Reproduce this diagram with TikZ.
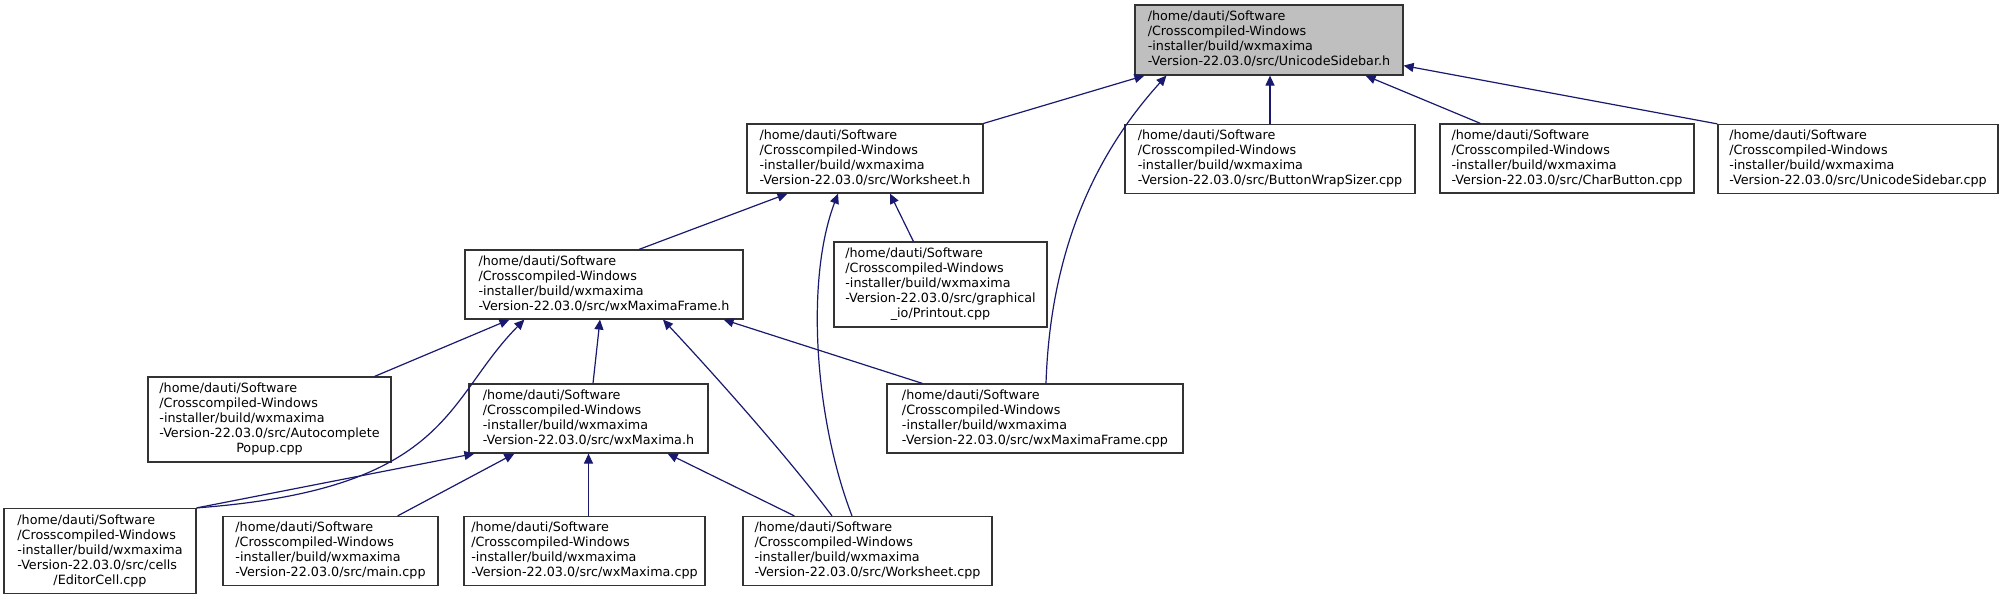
\documentclass[tikz,border=0pt]{standalone}
\usepackage{fontspec}
\setmainfont{DejaVu Sans}
\usetikzlibrary{arrows.meta}
\definecolor{edgeblue}{RGB}{25,25,112}

% four-line file label, last line ends in #1
\newcommand{\srcfile}[1]{\begin{tabular}{@{}l@{}}/home/dauti/Software\\/Crosscompiled-Windows\\-installer/build/wxmaxima\\-Version-22.03.0/src/#1\end{tabular}}
% five-line label, the wrapped rest #2 centred
\newcommand{\srcfilebr}[2]{\begin{tabular}{@{}l@{}}/home/dauti/Software\\/Crosscompiled-Windows\\-installer/build/wxmaxima\\-Version-22.03.0/src/#1\\\multicolumn{1}{@{}c@{}}{#2}\end{tabular}}

\begin{document}
\begin{tikzpicture}[x=0.5pt, y=-0.5pt,
  every node/.style={inner sep=0pt},
  file/.style={draw=black!80, fill=white, line width=0.6pt,
               font=\fontsize{6.37pt}{7.5pt}\selectfont, minimum height=34.5pt},
  tall/.style={minimum height=42.5pt},
  focus/.style={file, fill=black!25},
  dep/.style={-{Triangle[length=5pt, width=4.5pt]}, edgeblue, line width=0.6pt}]
\fill[white] (0,0) rectangle (2007,600);
\useasboundingbox (0,0) rectangle (2007,600);

% rank 0
\node[focus, minimum width=134pt, minimum height=35pt] (sidebarh) at (1269,40) {\srcfile{UnicodeSidebar.h}};
% rank 1
\node[file, minimum width=118pt] (worksheeth) at (865,158.5) {\srcfile{Worksheet.h}};
\node[file, minimum width=145pt] (wrapsizer) at (1270,159) {\srcfile{ButtonWrapSizer.cpp}};
\node[file, minimum width=127pt] (charbutton) at (1567,158.5) {\srcfile{CharButton.cpp}};
\node[file, minimum width=140pt] (sidebarcpp) at (1858,159) {\srcfile{UnicodeSidebar.cpp}};
% rank 2
\node[file, minimum width=139pt] (frameh) at (604,284.5) {\srcfile{wxMaximaFrame.h}};
\node[file, tall, minimum width=106.5pt] (printout) at (940.5,284.5) {\srcfilebr{graphical}{\_io/Printout.cpp}};
% rank 3
\node[file, tall, minimum width=121.5pt] (autocomp) at (269.5,419.5) {\srcfilebr{Autocomplete}{Popup.cpp}};
\node[file, minimum width=119.5pt] (wxmaximah) at (588.5,418.5) {\srcfile{wxMaxima.h}};
\node[file, minimum width=148pt] (framecpp) at (1035,418.5) {\srcfile{wxMaximaFrame.cpp}};
% rank 4
\node[file, tall, minimum width=96pt] (editorcell) at (100,551) {\srcfilebr{cells}{/EditorCell.cpp}};
\node[file, minimum width=107.5pt] (maincpp) at (330.5,551) {\srcfile{main.cpp}};
\node[file, minimum width=120.5pt] (wxmaximacpp) at (584.5,551) {\srcfile{wxMaxima.cpp}};
\node[file, minimum width=124.5pt] (worksheetcpp) at (867.5,551) {\srcfile{Worksheet.cpp}};

% includes of UnicodeSidebar.h
\draw[dep] (worksheeth.north east) -- ([xshift=5pt]sidebarh.south west);
\draw[dep] ([xshift=5.5pt]framecpp.north) .. controls +(4,-124) and +(-77,85) .. ([xshift=16pt]sidebarh.south west);
\draw[dep] (wrapsizer.north) -- (wrapsizer.north |- sidebarh.south);
\draw[dep] ([xshift=20.5pt]charbutton.north west) -- ([xshift=-19pt]sidebarh.south east);
\draw[dep] (sidebarcpp.north west) -- ([yshift=5pt]sidebarh.south east);
% includes of Worksheet.h
\draw[dep] ([xshift=17.5pt]frameh.north) -- ([xshift=20.5pt]worksheeth.south west);
\draw[dep] ([xshift=-7.75pt]worksheetcpp.north) .. controls +(-37,-96) and +(-33,87) .. ([xshift=-13.5pt]worksheeth.south);
\draw[dep] ([xshift=40pt]printout.north west) -- ([xshift=12.5pt]worksheeth.south);
% includes of wxMaximaFrame.h
\draw[dep] ([xshift=-8.5pt]autocomp.north east) -- ([xshift=22.5pt]frameh.south west);
\draw[dep] (editorcell.north east) .. controls +(254,-19) and +(-80,81) .. ([xshift=30pt]frameh.south west);
\draw[dep] ([xshift=2.25pt]wxmaximah.north) -- ([xshift=-2pt]frameh.south);
\draw[dep] ([xshift=-17.75pt]worksheetcpp.north) .. controls +(-42,-56) and +(57,61) .. ([xshift=29.5pt]frameh.south);
\draw[dep] ([xshift=18pt]framecpp.north west) -- ([xshift=-10pt]frameh.south east);
% includes of wxMaxima.h
\draw[dep] (editorcell.north east) -- ([xshift=3pt]wxmaximah.south west);
\draw[dep] ([xshift=-20.5pt]maincpp.north east) -- ([xshift=23pt]wxmaximah.south west);
\draw[dep] (wxmaximah.south |- wxmaximacpp.north) -- (wxmaximah.south);
\draw[dep] ([xshift=26pt]worksheetcpp.north west) -- ([xshift=-20.5pt]wxmaximah.south east);
\end{tikzpicture}
\end{document}
